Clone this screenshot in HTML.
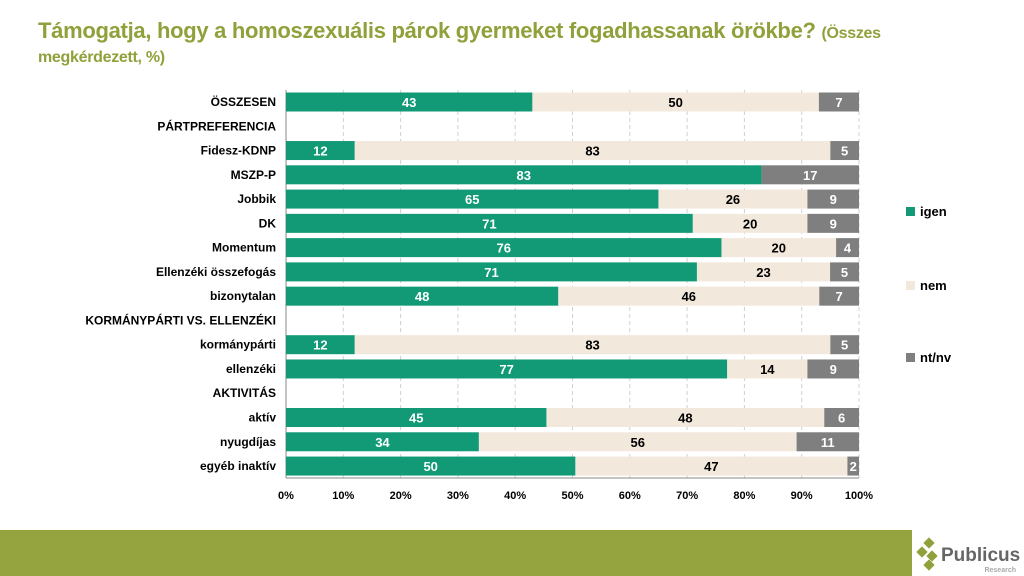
<!DOCTYPE html>
<html><head><meta charset="utf-8"><style>
body{margin:0;width:1024px;height:576px;overflow:hidden;background:#fff;font-family:"Liberation Sans",sans-serif;position:relative}
#title{position:absolute;left:38px;top:20px;width:900px;color:#8fa13a;font-family:"Liberation Sans Narrow","Liberation Sans",sans-serif;font-weight:bold;font-size:22px;line-height:21px;letter-spacing:-0.3px}
#title small{font-size:16px;line-height:21px}
#band{position:absolute;left:0;top:530px;width:912px;height:46px;background:#96a43f}
#logo{position:absolute;left:916px;top:536px;width:108px;height:40px}
</style></head><body>
<div id="title">Támogatja, hogy a homoszexuális párok gyermeket fogadhassanak örökbe? <small>(Összes megkérdezett, %)</small></div>
<svg id="chart" width="1024" height="530" style="position:absolute;left:0;top:0"></svg>
<div id="band"></div>
<svg id="logo" viewBox="0 0 108 40">
<g fill="#8fa13a"><rect x="9" y="3" width="8" height="8" transform="rotate(45 13 7)"/><rect x="2" y="12" width="8" height="8" transform="rotate(45 6 16)"/><rect x="12" y="16" width="8" height="8" transform="rotate(45 16 20)"/><rect x="9" y="25" width="8" height="8" transform="rotate(45 13 29)"/></g>
<text x="25" y="25" font-family="Liberation Sans" font-weight="bold" font-size="19" fill="#666">Publicus</text>
<text x="100" y="36" text-anchor="end" font-family="Liberation Sans" font-weight="bold" font-size="7" fill="#aaa">Research</text>
</svg>
<script>
const categories=["ÖSSZESEN","PÁRTPREFERENCIA","Fidesz-KDNP","MSZP-P","Jobbik","DK","Momentum","Ellenzéki összefogás","bizonytalan","KORMÁNYPÁRTI VS. ELLENZÉKI","kormánypárti","ellenzéki","AKTIVITÁS","aktív","nyugdíjas","egyéb inaktív"];
const igen=[43,null,12,83,65,71,76,71,48,null,12,77,null,45,34,50];
const nem=[50,null,83,0,26,20,20,23,46,null,83,14,null,48,56,47];
const ntnv=[7,null,5,17,9,9,4,5,7,null,5,9,null,6,11,2];
const ticks=[0,10,20,30,40,50,60,70,80,90,100];
const seriesNames=["igen","nem","nt/nv"];
const colors=["#129a76","#f2e8dc","#7f7f7f"];
const textColors=["#fff","#000","#fff"];
const svg=document.getElementById('chart');
const NS="http://www.w3.org/2000/svg";
const X0=286,X1=859,Y0=102,DY=24.27,BH=19;
const x=v=>X0+(X1-X0)*v/100;
const y=i=>Y0+i*DY;
function mk(t,a,parent){const e=document.createElementNS(NS,t);for(const k in a)e.setAttribute(k,a[k]);(parent||svg).appendChild(e);return e;}
ticks.forEach(t=>{
 const g=mk('line',{x1:x(t),x2:x(t),y1:y(0)-12,y2:y(15)+12,stroke:'#d0d0d0','stroke-dasharray':'4,3'});
 
 
 const tl=mk('text',{x:x(t),y:499,'text-anchor':'middle','font-size':11,'font-weight':'bold',fill:'#000'});
 tl.textContent=t+'%';
 
 
});
mk('line',{x1:X0,x2:X0,y1:y(0)-12,y2:y(15)+12,stroke:'#888'});
mk('line',{x1:X0,x2:X1,y1:y(15)+12,y2:y(15)+12,stroke:'#888'});
const series=[igen,nem,ntnv];
categories.forEach((c,i)=>{
 const l=mk('text',{x:276,y:y(i)+4,'text-anchor':'end','font-size':12,'font-weight':'bold',fill:'#000'});
 l.textContent=c;
 
 
 if(igen[i]==null)return;
 const tot=igen[i]+nem[i]+ntnv[i];
 let acc=0;
 series.forEach((s,k)=>{
  const v=s[i]*100/tot;
  if(v>0){
   const r=mk('rect',{x:x(acc),y:y(i)-BH/2,width:x(acc+v)-x(acc),height:BH,fill:colors[k]});
   
   
   const t=mk('text',{x:(x(acc)+x(acc+v))/2,y:y(i)+5,'text-anchor':'middle','font-size':13,'font-weight':'bold',fill:textColors[k]});
   t.textContent=s[i];
   
   
  }
  acc+=v;
 });
});
const ly=[212,286,358];
seriesNames.forEach((n,k)=>{
 const r=mk('rect',{x:906,y:ly[k]-5,width:9,height:9,fill:colors[k]});
 
 
 const t=mk('text',{x:920,y:ly[k]+4,'font-size':13,'font-weight':'bold',fill:'#000'});
 t.textContent=n;
 
 
});
</script>
</body></html>
